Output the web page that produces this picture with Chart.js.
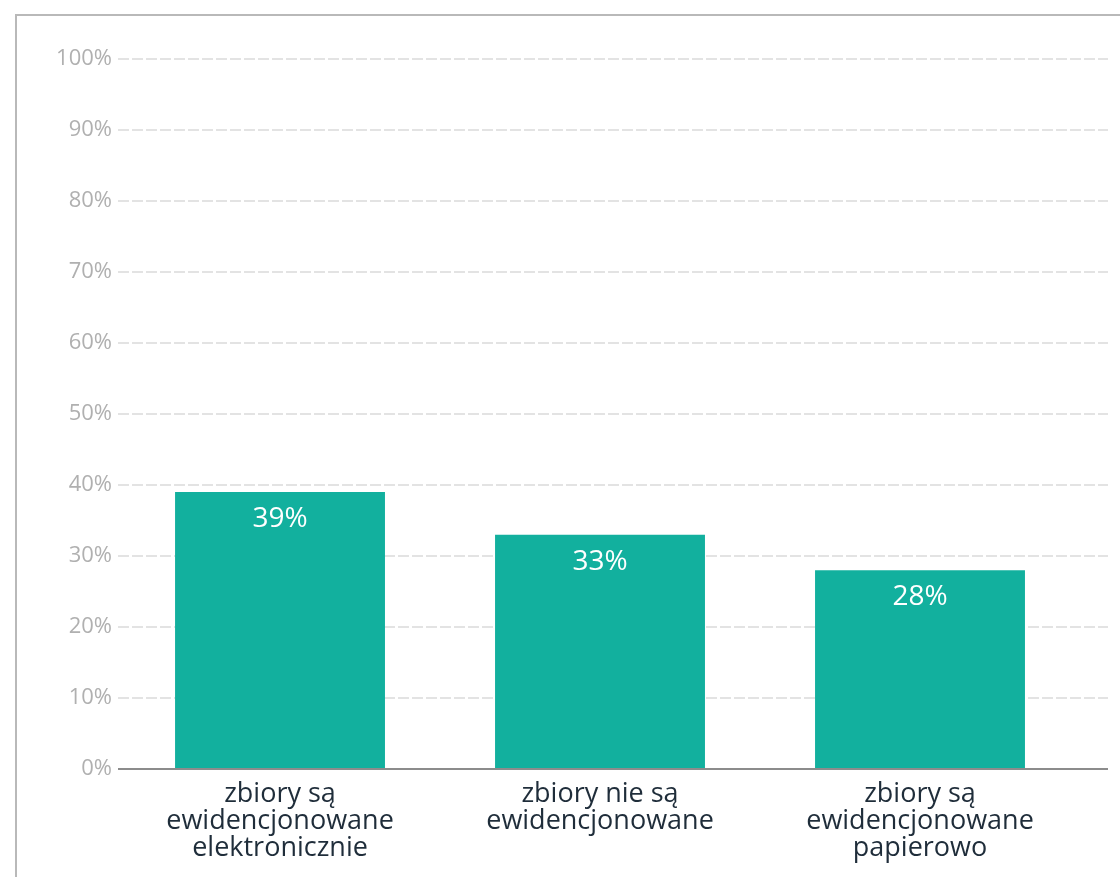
<!DOCTYPE html>
<html><head><meta charset="utf-8">
<script src="https://cdn.jsdelivr.net/npm/chart.js@4.4.0/dist/chart.umd.min.js"></script>
<style>
html,body{margin:0;padding:0;background:#fff;width:1120px;height:877px;overflow:hidden;}
#frame{position:absolute;left:15px;top:14px;width:1200px;height:1000px;border-top:2px solid #b9b9b9;border-left:2px solid #b9b9b9;box-sizing:border-box;}
#wrap{position:absolute;left:0;top:0;width:1120px;height:877px;}
</style></head><body>
<div id="frame"></div>
<div id="wrap"><canvas id="c" width="1120" height="877"></canvas></div>
<script>
const categories = [
  ["zbiory są", "ewidencjonowane", "elektronicznie"],
  ["zbiory nie są", "ewidencjonowane"],
  ["zbiory są", "ewidencjonowane", "papierowo"]
];
const values = [39, 33, 28];
const yTickValues = [0, 10, 20, 30, 40, 50, 60, 70, 80, 90, 100];

const FONT = '"Open Sans", "DejaVu Sans", sans-serif';

const valueLabels = {
  id: 'valueLabels',
  afterDatasetsDraw(chart) {
    const ctx = chart.ctx;
    const meta = chart.getDatasetMeta(0);
    ctx.save();
    ctx.fillStyle = '#ffffff';
    ctx.font = '28px ' + FONT;
    ctx.textAlign = 'center';
    ctx.textBaseline = 'middle';
    meta.data.forEach((bar, i) => {
      ctx.fillText(values[i] + '%', bar.x, bar.y + 27);
    });
    ctx.restore();
  }
};

new Chart(document.getElementById('c'), {
  type: 'bar',
  data: {
    datasets: [{
      data: values.map((v, i) => ({ x: i, y: v })),
      backgroundColor: '#12b09e',
      barPercentage: 0.656,
      categoryPercentage: 1
    }]
  },
  options: {
    responsive: false,
    animation: false,
    devicePixelRatio: 1,
    layout: { padding: { top: 59, right: 12, left: 0, bottom: 0 } },
    plugins: { legend: { display: false }, tooltip: { enabled: false } },
    scales: {
      x: {
        type: 'linear',
        offset: false,
        min: -0.5063,
        max: 2.5875,
        grid: { display: false, offset: false },
        border: { display: false },
        afterBuildTicks: s => { s.ticks = categories.map((_, i) => ({ value: i })); },
        afterFit: s => { s.height = 108; },
        ticks: {
          autoSkip: false,
          maxRotation: 0,
          minRotation: 0,
          padding: 4,
          color: '#1f2d3a',
          font: { family: FONT, size: 27, lineHeight: 1.0 },
          callback: v => categories[v]
        }
      },
      y: {
        min: 0,
        max: 100,
        afterBuildTicks: s => { s.ticks = yTickValues.map(v => ({ value: v })); },
        afterFit: s => { s.width = 118; },
        ticks: {
          padding: 6,
          color: '#b0b0b0',
          font: { family: FONT, size: 22 },
          callback: v => v + '%'
        },
        grid: {
          drawTicks: false,
          lineWidth: 2,
          color: ctx => (ctx.tick && ctx.tick.value === 0) ? '#8c8c8c' : '#e3e3e3'
        },
        border: {
          display: false,
          dash: ctx => (ctx.tick && ctx.tick.value === 0) ? [] : [11, 3]
        }
      }
    }
  },
  plugins: [valueLabels]
});
</script>
</body></html>
